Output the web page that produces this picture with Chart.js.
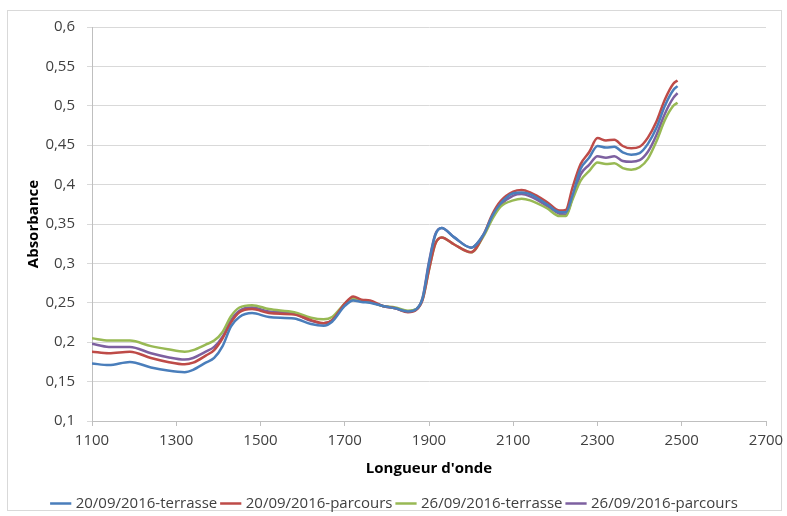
<!DOCTYPE html>
<html>
<head>
<meta charset="utf-8">
<script src="https://cdn.jsdelivr.net/npm/chart.js@4.4.0/dist/chart.umd.min.js"></script>
<style>
	body { margin: 0; background: #ffffff; }
	.wrap { position: relative; width: 787px; height: 516px; }
	.frame { position: absolute; left: 7px; top: 10px; right: 5px; bottom: 5px; border: 1px solid #d9d9d9; }
	canvas { position: absolute; left: 0; top: 0; }
</style>
</head>
<body>
<div class="wrap">
	<div class="frame"></div>
	<canvas id="myChart" width="787" height="516"></canvas>
</div>
<script>
// Wavelengths (nm)
const wavelengths = [1100, 1140, 1190, 1240, 1280, 1320, 1340, 1370, 1390, 1410, 1430, 1450, 1480, 1520, 1580, 1620, 1650, 1670, 1700, 1720, 1740, 1760, 1790, 1820, 1850, 1870, 1885, 1900, 1915, 1930, 1960, 2000, 2030, 2050, 2070, 2100, 2120, 2140, 2180, 2210, 2225, 2240, 2260, 2280, 2300, 2320, 2340, 2360, 2380, 2400, 2420, 2440, 2460, 2480, 2490];

// Absorbance per sample
const terrasse20 = [0.173, 0.171, 0.175, 0.168, 0.164, 0.162, 0.165, 0.174, 0.180, 0.195, 0.220, 0.232, 0.237, 0.232, 0.230, 0.223, 0.221, 0.226, 0.246, 0.253, 0.251, 0.250, 0.246, 0.243, 0.239, 0.242, 0.256, 0.300, 0.336, 0.345, 0.333, 0.320, 0.337, 0.360, 0.376, 0.389, 0.390, 0.388, 0.375, 0.365, 0.365, 0.385, 0.420, 0.434, 0.449, 0.447, 0.448, 0.441, 0.438, 0.440, 0.452, 0.472, 0.500, 0.520, 0.525];
const parcours20 = [0.188, 0.186, 0.188, 0.180, 0.175, 0.172, 0.174, 0.183, 0.190, 0.205, 0.225, 0.238, 0.242, 0.237, 0.235, 0.228, 0.224, 0.228, 0.249, 0.258, 0.254, 0.253, 0.246, 0.243, 0.238, 0.241, 0.254, 0.292, 0.325, 0.333, 0.324, 0.314, 0.337, 0.362, 0.379, 0.391, 0.393, 0.390, 0.378, 0.367, 0.368, 0.395, 0.426, 0.441, 0.459, 0.456, 0.457, 0.449, 0.446, 0.448, 0.460, 0.480, 0.508, 0.528, 0.532];
const terrasse26 = [0.205, 0.202, 0.202, 0.195, 0.191, 0.188, 0.190, 0.197, 0.202, 0.213, 0.233, 0.244, 0.247, 0.242, 0.238, 0.231, 0.229, 0.232, 0.249, 0.256, 0.252, 0.251, 0.246, 0.244, 0.240, 0.242, 0.255, 0.292, 0.325, 0.333, 0.324, 0.314, 0.335, 0.356, 0.372, 0.380, 0.382, 0.380, 0.370, 0.360, 0.360, 0.380, 0.405, 0.417, 0.428, 0.426, 0.427, 0.421, 0.419, 0.422, 0.433, 0.455, 0.482, 0.500, 0.504];
const parcours26 = [0.198, 0.194, 0.194, 0.186, 0.181, 0.178, 0.180, 0.188, 0.194, 0.207, 0.228, 0.240, 0.244, 0.239, 0.236, 0.227, 0.224, 0.228, 0.248, 0.254, 0.252, 0.251, 0.246, 0.243, 0.239, 0.242, 0.257, 0.302, 0.337, 0.345, 0.333, 0.320, 0.337, 0.358, 0.374, 0.386, 0.388, 0.385, 0.373, 0.363, 0.362, 0.382, 0.413, 0.425, 0.436, 0.434, 0.436, 0.430, 0.429, 0.431, 0.442, 0.463, 0.490, 0.510, 0.516];

const seriesLabels = ["20/09/2016-terrasse", "20/09/2016-parcours", "26/09/2016-terrasse", "26/09/2016-parcours"];
const seriesColors = ["#4a7ebb", "#be4b48", "#98b954", "#7d60a0"];
const seriesValues = [terrasse20, parcours20, terrasse26, parcours26];

function toPoints(values) {
	return values.map((v, i) => ({ x: wavelengths[i], y: v }));
}

const datasets = seriesValues.map((values, i) => ({
	label: seriesLabels[i],
	data: toPoints(values),
	borderColor: seriesColors[i],
	backgroundColor: seriesColors[i],
	borderWidth: 2.5,
	pointRadius: 0,
	fill: false,
	cubicInterpolationMode: "monotone",
}));

const ctx = document.getElementById("myChart").getContext("2d");
const chart = new Chart(ctx, {
	type: "line",
	data: { datasets: datasets },
	options: {
		responsive: false,
		animation: false,
		layout: {
			padding: { left: 25, right: 21, top: 27, bottom: -5 },
		},
		plugins: {
			legend: {
				position: "bottom",
				labels: {
					usePointStyle: true,
					pointStyle: "line",
					boxWidth: 20,
					padding: 6,
					color: "#404040",
					font: { family: "Open Sans", size: 15 },
				},
			},
			tooltip: { enabled: false },
		},
		scales: {
			x: {
				type: "linear",
				min: 1100,
				max: 2700,
				afterFit: (scale) => {
					scale.height = 69;
					scale.paddingRight = 0;
				},
				ticks: {
					stepSize: 200,
					padding: 6,
					color: "#404040",
					font: { family: "Open Sans", size: 15 },
					maxRotation: 0,
					callback: function (value) {
						return String(value);
					},
				},
				grid: {
					drawOnChartArea: false,
					drawTicks: true,
					tickLength: 5,
					color: "#bfbfbf",
				},
				border: { color: "#bfbfbf" },
				title: {
					display: true,
					text: "Longueur d'onde",
					color: "#000000",
					font: { family: "Open Sans", size: 15, weight: "bold" },
					padding: { top: 2, bottom: 12 },
				},
			},
			y: {
				min: 0.1,
				max: 0.6,
				afterFit: (scale) => {
					scale.width = 67;
				},
				ticks: {
					stepSize: 0.05,
					padding: 12,
					color: "#404040",
					font: { family: "Open Sans", size: 15 },
					callback: function (value) {
						return String(Math.round(value * 100) / 100).replace(".", ",");
					},
				},
				grid: {
					color: "#d9d9d9",
					tickLength: 5,
				},
				border: { color: "#bfbfbf" },
				title: {
					display: true,
					text: "Absorbance",
					color: "#000000",
					font: { family: "Open Sans", size: 15, weight: "bold" },
					padding: { top: 0, bottom: 2 },
				},
			},
		},
	},
});
</script>
</body>
</html>
